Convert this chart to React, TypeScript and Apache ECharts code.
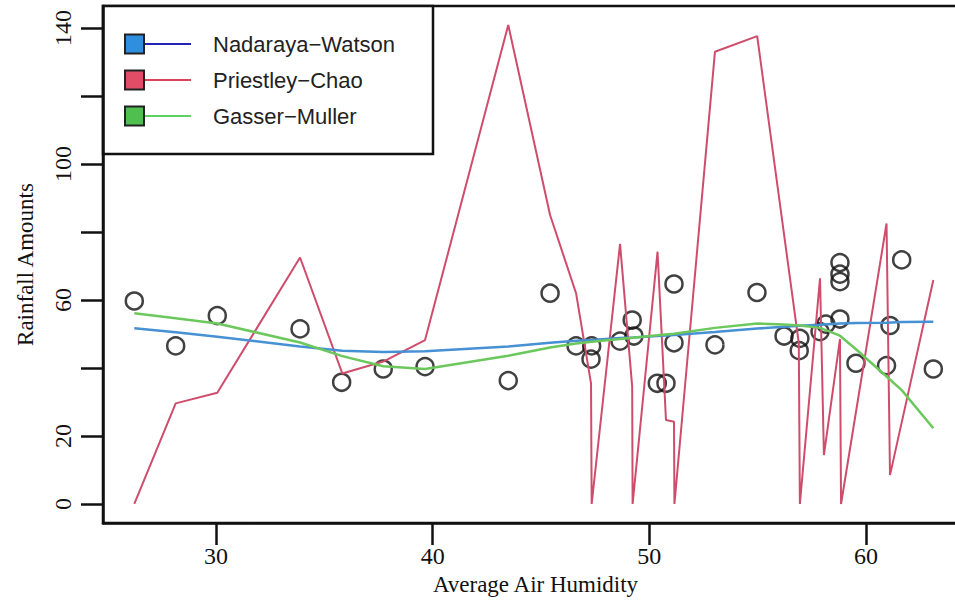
import { useEffect, useRef } from "react";
import * as echarts from "echarts";

// Observed data (Average Air Humidity vs Rainfall Amounts)
const humidity = [
  26.23, 28.14, 30.06, 33.88, 35.8, 37.72, 39.65, 43.49, 45.42, 46.62, 47.31, 47.34,
  48.65, 49.21, 49.29, 50.37, 50.77, 51.14, 51.14, 53.03, 54.97, 56.22, 56.92, 56.95,
  57.88, 58.15, 58.8, 58.8, 58.8, 58.8, 59.54, 60.95, 61.11, 61.65, 63.11,
];
const rainfall = [
  59.7, 46.5, 55.4, 51.5, 35.8, 39.7, 40.4, 36.3, 62.0, 46.5, 42.6, 46.5,
  47.9, 54.1, 49.4, 35.5, 35.5, 64.7, 47.4, 46.8, 62.2, 49.4, 45.1, 48.7,
  50.7, 52.9, 71.0, 67.6, 65.4, 54.4, 41.4, 40.7, 52.5, 71.8, 39.7,
];

// Smoother evaluation grid
const smoothX = [
  26.23, 28.14, 30.06, 33.88, 35.83, 37.72, 39.65, 43.49, 45.42, 46.62, 47.34, 48.65,
  49.25, 50.37, 51.14, 53.03, 54.98, 56.22, 56.95, 57.88, 58.8, 59.54, 60.95, 61.65, 63.11,
];
const nadarayaWatson = [
  51.7, 50.5, 49.2, 46.3, 45.1, 44.7, 44.9, 46.3, 47.4, 48.0, 48.2, 48.8,
  49.0, 49.4, 49.7, 50.6, 51.6, 52.1, 52.4, 52.7, 53.1, 53.2, 53.3, 53.5, 53.6,
];
const gasserMuller = [
  56.1, 54.6, 53.1, 47.5, 43.5, 40.5, 39.7, 43.6, 46.0, 47.2, 47.7, 48.5,
  48.9, 49.6, 50.1, 51.8, 53.1, 52.8, 52.5, 51.8, 49.5, 45.5, 37.5, 33.5, 22.3,
];

// Priestley-Chao estimate
const pcX = [
  26.23, 28.14, 30.06, 33.88, 35.83, 37.72, 39.65, 43.49, 45.42, 46.62, 47.31, 47.34,
  48.65, 49.21, 49.23, 50.38, 50.77, 51.14, 51.16, 53.03, 54.98, 56.9, 56.95, 57.88,
  58.06, 58.8, 58.85, 60.95, 61.11, 63.11,
];
const pcY = [
  0, 29.6, 32.7, 72.5, 38.4, 41.9, 48.2, 140.9, 85, 62, 35.5, 0,
  76.5, 34.5, 0, 74.2, 24.7, 24.2, 0, 133, 137.6, 47.3, 0, 66.4,
  14.4, 48.5, 0, 82.5, 8.5, 65.9,
];

const xTicks = [30, 40, 50, 60];
const yTicks = [0, 20, 40, 60, 80, 100, 120, 140];
const yLabels = [0, 20, 60, 100, 140];

const legendNames = ["Nadaraya\u2212Watson", "Priestley\u2212Chao", "Gasser\u2212Muller"];

const SERIF = "'Liberation Serif', 'Times New Roman', serif";
const SANS = "'Liberation Sans', Arial, sans-serif";

export default function App() {
  const ref = useRef<HTMLDivElement>(null);

  useEffect(() => {
    const chart = echarts.init(ref.current!, null, { renderer: "svg" });

    const pts = humidity.map((x, i) => [x, rainfall[i]]);
    const nw = smoothX.map((x, i) => [x, nadarayaWatson[i]]);
    const gm = smoothX.map((x, i) => [x, gasserMuller[i]]);
    const pc = pcX.map((x, i) => [x, pcY[i]]);

    const legendRows = [
      { name: legendNames[0], fill: "#2e8fe0", line: "#2323b5", y: 44 },
      { name: legendNames[1], fill: "#e04d68", line: "#d9445a", y: 80 },
      { name: legendNames[2], fill: "#4fc04f", line: "#5fd35f", y: 116 },
    ];

    const legendChildren: any[] = [
      {
        type: "rect",
        shape: { x: 103, y: 6, width: 330, height: 148 },
        style: { fill: "#fff", stroke: "#111", lineWidth: 2.5 },
      },
    ];
    legendRows.forEach((r) => {
      legendChildren.push({
        type: "line",
        shape: { x1: 144, y1: r.y, x2: 191, y2: r.y },
        style: { stroke: r.line, lineWidth: 2 },
      });
      legendChildren.push({
        type: "rect",
        shape: { x: 125, y: r.y - 9.5, width: 19, height: 19 },
        style: { fill: r.fill, stroke: "#222", lineWidth: 2 },
      });
      legendChildren.push({
        type: "text",
        x: 213,
        y: r.y,
        style: {
          text: r.name,
          fill: "#222",
          font: `22px ${SANS}`,
          textVerticalAlign: "middle",
          verticalAlign: "middle",
        },
      });
    });

    chart.setOption({
      animation: false,
      backgroundColor: "#ffffff",
      grid: {
        left: 103,
        top: 6,
        right: 2,
        bottom: 79,
        show: true,
        borderColor: "#111",
        borderWidth: 2.5,
        backgroundColor: "transparent",
      },
      xAxis: {
        type: "value",
        min: 24.785,
        max: 64.71,
        name: "Average Air Humidity",
        nameLocation: "middle",
        nameGap: 50,
        nameTextStyle: { fontFamily: SERIF, fontSize: 23, color: "#111" },
        axisLine: { show: true, onZero: false, lineStyle: { color: "#111", width: 2.5 } },
        axisTick: {
          show: true,
          length: 22,
          customValues: xTicks,
          lineStyle: { color: "#111", width: 2.5 },
        },
        axisLabel: {
          customValues: xTicks,
          margin: 21,
          fontFamily: SERIF,
          fontSize: 24,
          color: "#111",
        },
        splitLine: { show: false },
      },
      yAxis: {
        type: "value",
        min: -5.59,
        max: 146.47,
        name: "Rainfall Amounts",
        nameLocation: "middle",
        nameRotate: 90,
        nameGap: 66,
        nameTextStyle: { fontFamily: SERIF, fontSize: 23, color: "#111" },
        axisLine: { show: true, onZero: false, lineStyle: { color: "#111", width: 2.5 } },
        axisTick: {
          show: true,
          length: 22,
          customValues: yTicks,
          lineStyle: { color: "#111", width: 2.5 },
        },
        axisLabel: {
          customValues: yLabels,
          rotate: 90,
          margin: 28,
          fontFamily: SERIF,
          fontSize: 24,
          color: "#111",
        },
        splitLine: { show: false },
      },
      series: [
        {
          name: "Observed",
          type: "scatter",
          data: pts,
          symbol: "circle",
          symbolSize: 17,
          itemStyle: { color: "rgba(0,0,0,0)", borderColor: "#111", borderWidth: 2.5 },
          z: 2,
        },
        {
          name: legendNames[1],
          type: "line",
          data: pc,
          showSymbol: false,
          lineStyle: { color: "#cf4d6c", width: 2 },
          z: 3,
        },
        {
          name: legendNames[0],
          type: "line",
          data: nw,
          showSymbol: false,
          lineStyle: { color: "#4690d4", width: 2.5 },
          z: 4,
        },
        {
          name: legendNames[2],
          type: "line",
          data: gm,
          showSymbol: false,
          lineStyle: { color: "#6cc85c", width: 2.5 },
          z: 4,
        },
      ],
      graphic: [{ type: "group", z: 100, children: legendChildren }],
    });

    return () => chart.dispose();
  }, []);

  return (
    <div
      style={{
        position: "fixed",
        left: 0,
        top: 0,
        width: 955,
        height: 602,
        overflow: "hidden",
        background: "#fff",
      }}
    >
      <div ref={ref} style={{ width: 970, height: 602 }} />
    </div>
  );
}
